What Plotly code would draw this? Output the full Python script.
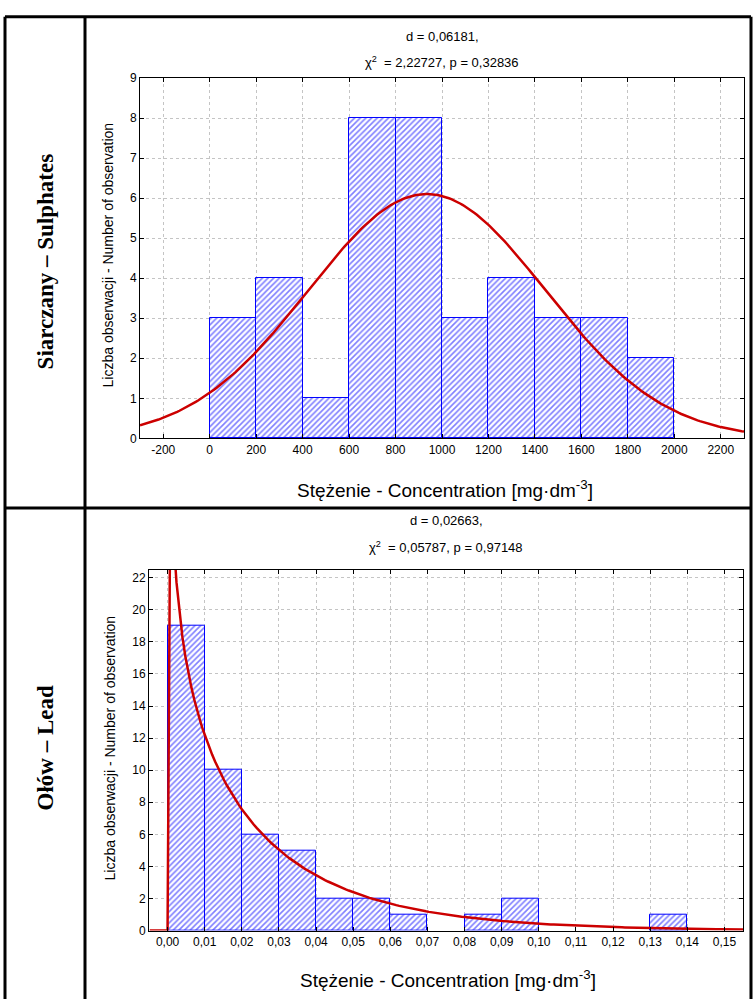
import math
import plotly.graph_objects as go

FIG_W, FIG_H = 753, 999

# ---- Sulphates: counts per 200 mg/dm3 class, fitted normal curve parameters
sulph_edges = [0, 200, 400, 600, 800, 1000, 1200, 1400, 1600, 1800, 2000]
sulph_counts = [3, 4, 1, 8, 8, 3, 4, 3, 3, 2]
sulph_mean = 935.0
sulph_sd = 510.0
sulph_xticks = [-200, 0, 200, 400, 600, 800, 1000, 1200, 1400, 1600, 1800, 2000, 2200]
sulph_xlabels = ["-200", "0", "200", "400", "600", "800", "1000", "1200",
                 "1400", "1600", "1800", "2000", "2200"]
sulph_yticks = [0, 1, 2, 3, 4, 5, 6, 7, 8, 9]
sulph_stats = ["d = 0,06181,", "χ<sup>2</sup>  = 2,22727, p = 0,32836"]

# ---- Lead: counts per 0.01 mg/dm3 class, fitted gamma curve parameters
lead_edges = [0.00, 0.01, 0.02, 0.03, 0.04, 0.05, 0.06, 0.07, 0.08, 0.09,
              0.10, 0.11, 0.12, 0.13, 0.14]
lead_counts = [19, 10, 6, 5, 2, 2, 1, 0, 1, 2, 0, 0, 0, 1]
lead_shape = 0.7615
lead_scale = 0.0321
lead_xticks = [0.00, 0.01, 0.02, 0.03, 0.04, 0.05, 0.06, 0.07, 0.08, 0.09,
               0.10, 0.11, 0.12, 0.13, 0.14, 0.15]
lead_xlabels = ["0,00", "0,01", "0,02", "0,03", "0,04", "0,05", "0,06", "0,07",
                "0,08", "0,09", "0,10", "0,11", "0,12", "0,13", "0,14", "0,15"]
lead_yticks = [0, 2, 4, 6, 8, 10, 12, 14, 16, 18, 20, 22]
lead_stats = ["d = 0,02663,", "χ<sup>2</sup>  = 0,05787, p = 0,97148"]

panel_labels = ["Siarczany – Sulphates", "Ołów – Lead"]
x_title = "Stężenie - Concentration [mg·dm<sup>-3</sup>]"
y_title = "Liczba obserwacji - Number of observation"

SANS = "Arial, 'Liberation Sans', sans-serif"
SERIF = "'Times New Roman', 'Liberation Serif', serif"
BLUE = "#0000ff"
RED = "#cc0000"


def px(x):
    return x / FIG_W


def py(y):
    return 1 - y / FIG_H


def normal_expected(x, n, width, mean, sd):
    return n * width * math.exp(-((x - mean) ** 2) / (2 * sd * sd)) / (sd * math.sqrt(2 * math.pi))


def gamma_expected(x, n, width, k, theta):
    if x <= 1e-12:
        return 0.0
    return n * width * x ** (k - 1) * math.exp(-x / theta) / (math.gamma(k) * theta ** k)


def hist_bar(edges, counts, xa, ya):
    # empty classes are left out so no outline is drawn along the axis
    bins = [(a, b, c) for a, b, c in zip(edges[:-1], edges[1:], counts) if c > 0]
    return go.Bar(
        x=[(a + b) / 2 for a, b, _ in bins],
        y=[c for _, _, c in bins],
        width=[b - a for a, b, _ in bins],
        xaxis=xa, yaxis=ya,
        marker=dict(
            color="white",
            line=dict(color=BLUE, width=1),
            pattern=dict(shape="/", fgcolor=BLUE, bgcolor="white", size=4, solidity=0.4),
        ),
        showlegend=False, hoverinfo="skip",
    )


fig = go.Figure()

# Sulphates histogram + normal curve
s_n = sum(sulph_counts)
s_w = sulph_edges[1] - sulph_edges[0]
fig.add_trace(hist_bar(sulph_edges, sulph_counts, "x", "y"))
s_x = [-300 + 10 * i for i in range(261)]
s_y = [normal_expected(v, s_n, s_w, sulph_mean, sulph_sd) for v in s_x]
fig.add_trace(go.Scatter(x=s_x, y=s_y, mode="lines", line=dict(color=RED, width=2.5),
                         xaxis="x", yaxis="y", showlegend=False, hoverinfo="skip"))

# Lead histogram + gamma curve
l_n = sum(lead_counts)
l_w = round(lead_edges[1] - lead_edges[0], 6)
fig.add_trace(hist_bar(lead_edges, lead_counts, "x2", "y2"))
l_x = [round(-0.0048 + 0.0008 * i, 6) for i in range(201)]
l_y = [gamma_expected(v, l_n, l_w, lead_shape, lead_scale) for v in l_x]
fig.add_trace(go.Scatter(x=l_x, y=l_y, mode="lines", line=dict(color=RED, width=2.5),
                         xaxis="x2", yaxis="y2", showlegend=False, hoverinfo="skip"))

axis_common = dict(
    showgrid=True, gridcolor="#c4c4c4", griddash="dot", gridwidth=1,
    showline=True, linecolor="black", linewidth=1, mirror="allticks",
    ticks="inside", ticklen=4, tickcolor="black",
    tickfont=dict(family=SANS, size=12, color="black"),
    zeroline=False, fixedrange=True,
)

fig.update_layout(
    width=FIG_W, height=FIG_H,
    margin=dict(l=0, r=0, t=0, b=0),
    paper_bgcolor="white", plot_bgcolor="white",
    bargap=0,
    xaxis=dict(domain=[px(140), px(744)], range=[-300, 2300], anchor="y",
               tickmode="array", tickvals=sulph_xticks, ticktext=sulph_xlabels, **axis_common),
    yaxis=dict(domain=[py(437.5), py(72)], range=[0, 9], anchor="x",
               tickmode="array", tickvals=sulph_yticks, **axis_common),
    xaxis2=dict(domain=[px(149), px(743)], range=[-0.005, 0.155], anchor="y2",
                tickmode="array", tickvals=lead_xticks, ticktext=lead_xlabels, **axis_common),
    yaxis2=dict(domain=[py(936.7), py(570.7)], range=[0, 22.5], anchor="x2",
                tickmode="array", tickvals=lead_yticks, **axis_common),
)

# Table frame around the two panels
frame = dict(color="black", width=3)
shapes = [
    dict(type="line", xref="paper", yref="paper", x0=px(5), x1=px(5), y0=py(10), y1=-0.01, line=frame),
    dict(type="line", xref="paper", yref="paper", x0=px(85), x1=px(85), y0=py(10), y1=-0.01, line=frame),
    dict(type="line", xref="paper", yref="paper", x0=px(751), x1=px(751), y0=py(10), y1=-0.01, line=frame),
    dict(type="line", xref="paper", yref="paper", x0=px(5), x1=px(751), y0=py(10), y1=py(10), line=frame),
    dict(type="line", xref="paper", yref="paper", x0=px(5), x1=px(751), y0=py(508), y1=py(508), line=frame),
]
fig.update_layout(shapes=shapes)


def note(text, x, y, size, family=SANS, angle=0, bold=False):
    if bold:
        text = "<b>" + text + "</b>"
    fig.add_annotation(text=text, x=px(x), y=py(y), xref="paper", yref="paper",
                       showarrow=False, xanchor="center", yanchor="middle",
                       textangle=angle, font=dict(family=family, size=size, color="black"))


# Sulphates panel texts
note(sulph_stats[0], 442, 30, 13)
note(sulph_stats[1], 442, 56, 13)
note(x_title, 445, 489, 19)
note(y_title, 108, 252, 14, angle=-90)
note(panel_labels[0], 45, 258, 23, family=SERIF, angle=-90, bold=True)

# Lead panel texts
note(lead_stats[0], 446, 521, 13)
note(lead_stats[1], 446, 548, 13)
note(x_title, 448, 986, 19)
note(y_title, 110, 752, 14, angle=-90)
note(panel_labels[1], 45, 752, 23, family=SERIF, angle=-90, bold=True)

fig.write_html("out.html")
